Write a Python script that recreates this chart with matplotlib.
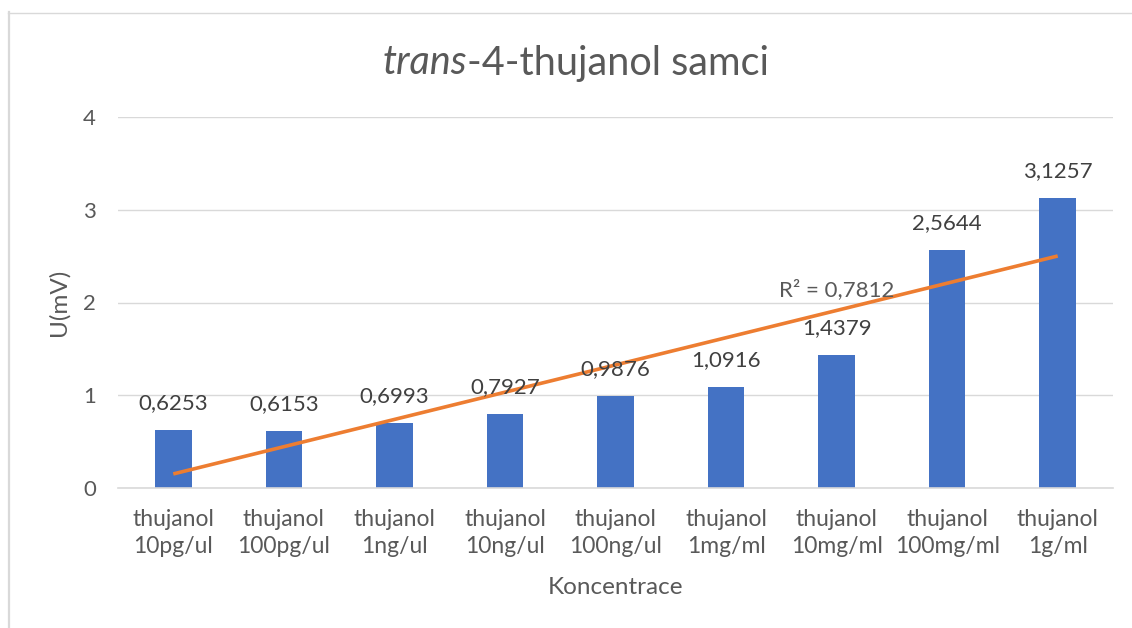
import numpy as np
import matplotlib
matplotlib.use("Agg")
import matplotlib.pyplot as plt
from matplotlib.lines import Line2D

categories = ["thujanol\n10pg/ul", "thujanol\n100pg/ul", "thujanol\n1ng/ul",
              "thujanol\n10ng/ul", "thujanol\n100ng/ul", "thujanol\n1mg/ml",
              "thujanol\n10mg/ml", "thujanol\n100mg/ml", "thujanol\n1g/ml"]
values = [0.6253, 0.6153, 0.6993, 0.7927, 0.9876, 1.0916, 1.4379, 2.5644, 3.1257]
value_labels = ["0,6253", "0,6153", "0,6993", "0,7927", "0,9876", "1,0916",
                "1,4379", "2,5644", "3,1257"]
y_ticks = [0, 1, 2, 3, 4]
r2_text = "R² = 0,7812"

plt.rcParams['font.family'] = ['Lato', 'DejaVu Sans']
TXT = "#595959"
GRID = "#D9D9D9"

W, H = 1132, 628
fig = plt.figure(figsize=(W / 100, H / 100), dpi=100)
ax = fig.add_axes([118 / W, (H - 488) / H, (1113 - 118) / W, (488 - 117) / H])

x = np.arange(len(values))
ax.bar(x, values, width=0.33, color="#4472C4", zorder=2)

# linear trendline (as Excel computes it, over positions 1..n)
xp = x + 1
slope, intercept = np.polyfit(xp, values, 1)
ax.plot(x, slope * xp + intercept, color="#ED7D31", lw=2.6, zorder=3,
        solid_capstyle="butt")

for xi, v, lab in zip(x, values, value_labels):
    ax.annotate(lab, (xi, v), xytext=(0, 27), textcoords="offset pixels",
                ha="center", va="center", fontsize=16, color="#404040", zorder=4)

ax.text(6.0, 2.14, r2_text, ha="center", va="center", fontsize=16,
        color=TXT, zorder=4)

ax.set_xlim(-0.5, len(values) - 0.5)
ax.set_ylim(0, 4)
ax.set_yticks(y_ticks)
ax.set_xticks(x)
ax.set_xticklabels(categories, fontsize=16.5, color=TXT, linespacing=1.38)
ax.tick_params(axis="y", length=0, pad=16, labelsize=16, labelcolor=TXT)
ax.tick_params(axis="x", length=0, pad=15)
ax.grid(axis="y", color=GRID, lw=1, zorder=0)
ax.set_axisbelow(True)
for s in ["top", "right", "left"]:
    ax.spines[s].set_visible(False)
ax.spines["bottom"].set_color(GRID)
ax.spines["bottom"].set_linewidth(1.2)

ax.set_ylabel("U(mV)", fontsize=17.5, color=TXT, rotation=90,
              rotation_mode="default", ha="center", va="center")
ax.yaxis.set_label_coords((59 - 118) / 995, 0.5)
ax.set_xlabel("Koncentrace", fontsize=17.5, color=TXT)
ax.xaxis.set_label_coords(0.5, -0.24)

# title: italic "trans" + normal "-4-thujanol samci", centered together
title_y = 1 - 63 / H
t1 = fig.text(0.5, title_y, "trans", fontsize=28.5, color=TXT, style="italic",
              ha="right", va="center")
t2 = fig.text(0.5, title_y, "-4-thujanol samci", fontsize=28.5, color=TXT,
              ha="left", va="center")
fig.canvas.draw()
r = fig.canvas.get_renderer()
w1 = t1.get_window_extent(r).width
w2 = t2.get_window_extent(r).width
total = w1 + w2
left = 576 - total / 2
t1.set_position(((left + w1) / W, title_y))
t2.set_position(((left + w1) / W, title_y))

# outer chart border (top and left visible)
fig.add_artist(Line2D([8.5 / W, 8.5 / W], [0, 1 - 12 / H], transform=fig.transFigure,
                      color=GRID, lw=1.6))
fig.add_artist(Line2D([8 / W, 1], [1 - 12.5 / H, 1 - 12.5 / H], transform=fig.transFigure,
                      color=GRID, lw=1.0))

fig.savefig("out.png", dpi=100, facecolor="white")
